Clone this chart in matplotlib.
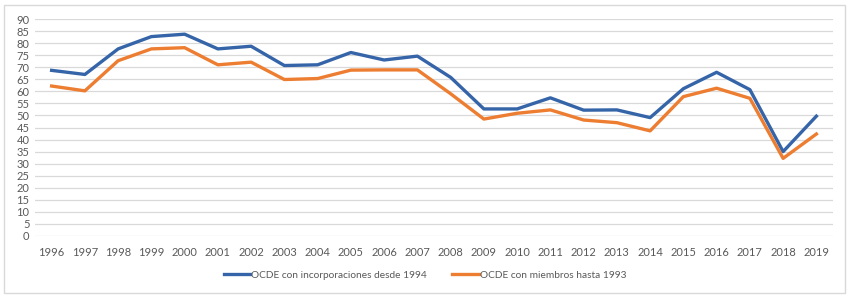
import matplotlib.pyplot as plt
from matplotlib.patches import Rectangle

# ============================================================
# DATA
# ============================================================
years = [str(y) for y in range(1996, 2020)]
ocde_1994 = [68.7, 67.0, 77.6, 82.7, 83.7, 77.6, 78.7, 70.7, 71.0, 76.1, 73.0, 74.6,
             65.8, 52.7, 52.7, 57.3, 52.2, 52.3, 49.1, 61.1, 67.9, 60.7, 35.0, 49.7]
ocde_1993 = [62.2, 60.2, 72.7, 77.6, 78.1, 71.0, 72.1, 64.9, 65.3, 68.8, 68.9, 68.9,
             59.0, 48.5, 50.9, 52.3, 48.1, 47.0, 43.6, 57.8, 61.3, 57.1, 32.2, 42.3]
yticks = list(range(0, 95, 5))

plt.rcParams['font.family'] = ['Lato', 'DejaVu Sans']

fig = plt.figure(figsize=(8.5, 2.99), dpi=100)
ax = fig.add_axes([35 / 850, 1 - 236 / 299, 798 / 850, 217 / 299])

x = range(len(years))
ax.plot(x, ocde_1994, color="#3565A8", lw=2.4, label="OCDE con incorporaciones desde 1994")
ax.plot(x, ocde_1993, color="#ED7D31", lw=2.4, label="OCDE con miembros hasta 1993")

ax.set_xlim(-0.5, len(years) - 0.5)
ax.set_ylim(0, 90)
ax.set_yticks(yticks)
ax.set_xticks(list(x))
ax.set_xticklabels(years)
ax.grid(axis="y", color="#D9D9D9", lw=0.9)
ax.set_axisbelow(True)
for s in ax.spines.values():
    s.set_visible(False)
ax.tick_params(length=0, labelsize=8, colors="#595959")
ax.tick_params(axis="x", pad=8)
ax.tick_params(axis="y", pad=4)

fig.legend(loc="center", bbox_to_anchor=(0.5, 1 - 275 / 299), ncol=2, frameon=False,
           fontsize=7.3, handlelength=2.6, columnspacing=2.5, labelcolor="#595959",
           handletextpad=0.1)

# outer chart border
fig.patches.append(Rectangle((4 / 850, 6 / 299), 841 / 850, 288 / 299,
                             transform=fig.transFigure, fill=False,
                             edgecolor="#D9D9D9", lw=1))

fig.savefig("out.png", dpi=100)
